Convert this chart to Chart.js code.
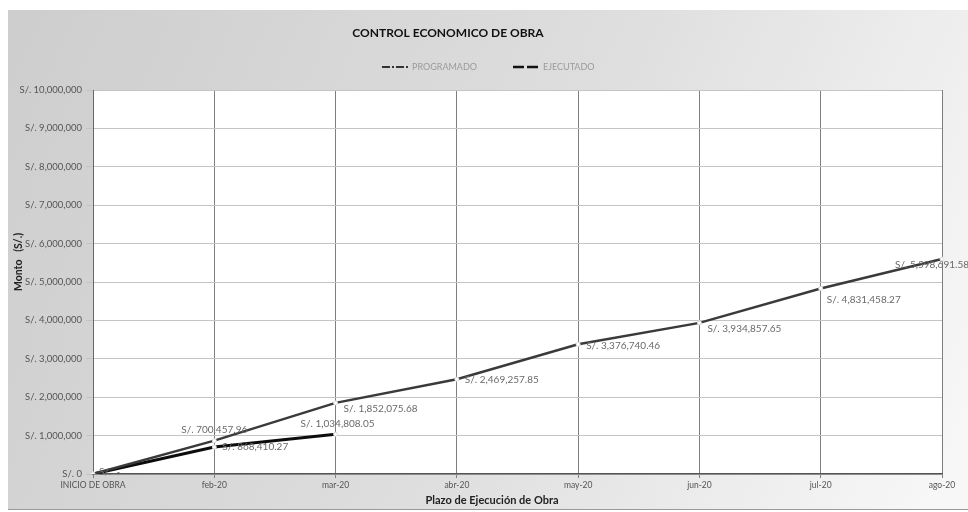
<!DOCTYPE html>
<html>
<head>
<meta charset="utf-8">
<script src="https://cdn.jsdelivr.net/npm/chart.js@4/dist/chart.umd.min.js"></script>
<style>
  html, body { margin: 0; padding: 0; background: #ffffff; }
  #wrap { width: 968px; height: 512px; position: relative; }
</style>
</head>
<body>
<div id="wrap"><canvas id="c" width="968" height="512"></canvas></div>
<script>
// ---- data ----
const categories = ['INICIO DE OBRA', 'feb-20', 'mar-20', 'abr-20', 'may-20', 'jun-20', 'jul-20', 'ago-20'];
const programado = [0, 868410.27, 1852075.68, 2469257.85, 3376740.46, 3934857.65, 4831458.27, 5598691.58];
const ejecutado = [0, 700457.96, 1034808.05];
const yTicks = [0, 1000000, 2000000, 3000000, 4000000, 5000000, 6000000, 7000000, 8000000, 9000000, 10000000];
// label anchor for each point (style only)
const progLabelPos = ['zero', 'rightBelow', 'rightBelow', 'right', 'right', 'rightBelow', 'rightBelow2', 'leftBelow'];
const ejecLabelPos = ['none', 'aboveHigh', 'above'];

const FONT = 'Lato, "Open Sans", sans-serif';

function money(v) {
  return 'S/. ' + v.toLocaleString('en-US', { minimumFractionDigits: 2, maximumFractionDigits: 2 });
}

const decorPlugin = {
  id: 'decor',
  beforeDraw(chart) {
    const ctx = chart.ctx;
    const { chartArea } = chart;
    ctx.save();
    ctx.fillStyle = '#ffffff';
    ctx.fillRect(0, 0, chart.width, chart.height);
    const g = ctx.createLinearGradient(0, 0, 968, 420);
    g.addColorStop(0, '#cdcdcd');
    g.addColorStop(0.55, '#dedede');
    g.addColorStop(1, '#f7f7f7');
    ctx.fillStyle = g;
    ctx.fillRect(8, 10, 960, 500);
    ctx.strokeStyle = '#9a9a9a';
    ctx.lineWidth = 1;
    ctx.beginPath();
    ctx.moveTo(8, 509.5); ctx.lineTo(968, 509.5);
    ctx.stroke();
    ctx.fillStyle = '#ffffff';
    ctx.fillRect(chartArea.left, chartArea.top, chartArea.right - chartArea.left, chartArea.bottom - chartArea.top);
    ctx.restore();
  },
  afterDraw(chart) {
    const ctx = chart.ctx;
    ctx.save();
    // title
    ctx.fillStyle = '#111';
    ctx.font = 'bold 12px ' + FONT;
    ctx.textAlign = 'center';
    ctx.textBaseline = 'middle';
    ctx.fillText('CONTROL ECONOMICO DE OBRA', 448, 33);
    // legend
    ctx.font = '9px ' + FONT;
    ctx.textAlign = 'left';
    const items = [
      { x: 382, text: 'PROGRAMADO', color: '#333', dash: [8, 2, 2, 2], w: 2 },
      { x: 513, text: 'EJECUTADO', color: '#111', dash: [11, 3], w: 2.5 }
    ];
    items.forEach(it => {
      ctx.strokeStyle = it.color;
      ctx.lineWidth = it.w;
      ctx.setLineDash(it.dash);
      ctx.beginPath();
      ctx.moveTo(it.x, 67); ctx.lineTo(it.x + 26, 67);
      ctx.stroke();
      ctx.setLineDash([]);
      ctx.fillStyle = '#9a9a9a';
      ctx.fillText(it.text, it.x + 30, 67.5);
    });
    // x axis title
    ctx.fillStyle = '#222';
    ctx.font = 'bold 11px ' + FONT;
    ctx.textAlign = 'center';
    ctx.fillText('Plazo de Ejecución de Obra', 492, 500);
    // y axis title
    ctx.translate(19, 262);
    ctx.rotate(-Math.PI / 2);
    ctx.font = 'bold 10.5px ' + FONT;
    ctx.fillText('Monto   (S/.)', 0, 0);
    ctx.restore();
  },
  afterDatasetsDraw(chart) {
    const ctx = chart.ctx;
    ctx.save();
    ctx.font = '10px ' + FONT;
    ctx.fillStyle = '#6a6a6a';
    ctx.textBaseline = 'middle';
    const posSets = [progLabelPos, ejecLabelPos];
    chart.data.datasets.forEach((ds, di) => {
      const meta = chart.getDatasetMeta(di);
      meta.data.forEach((pt, i) => {
        const pos = posSets[di][i];
        const v = ds.data[i];
        let txt = v === 0 ? 'S/.  -' : money(v);
        let x = pt.x, y = pt.y;
        if (pos === 'none') return;
        if (pos === 'zero') { ctx.textAlign = 'left'; x += 6; y -= 2; }
        else if (pos === 'right') { ctx.textAlign = 'left'; x += 8; y += 1; }
        else if (pos === 'rightBelow') { ctx.textAlign = 'left'; x += 8; y += 6; }
        else if (pos === 'rightBelow2') { ctx.textAlign = 'left'; x += 6; y += 11; }
        else if (pos === 'leftBelow') { ctx.textAlign = 'center'; x -= 10; y += 6; }
        else if (pos === 'above') { ctx.textAlign = 'center'; x += 2; y -= 10; }
        else if (pos === 'aboveHigh') { ctx.textAlign = 'center'; y -= 17; }
        ctx.fillText(txt, x, y);
      });
    });
    ctx.restore();
  }
};

new Chart(document.getElementById('c'), {
  type: 'line',
  data: {
    labels: categories,
    datasets: [
      {
        label: 'PROGRAMADO',
        data: programado,
        borderColor: '#3a3a3a',
        borderWidth: 2.5,
        pointRadius: 2,
        pointBackgroundColor: '#ffffff',
        pointBorderColor: '#dddddd',
        pointBorderWidth: 1,
        tension: 0,
        fill: false
      },
      {
        label: 'EJECUTADO',
        data: ejecutado,
        borderColor: '#0c0c0c',
        borderWidth: 3,
        pointRadius: 2,
        pointBackgroundColor: '#ffffff',
        pointBorderColor: '#dddddd',
        pointBorderWidth: 1,
        tension: 0,
        fill: false
      }
    ]
  },
  options: {
    responsive: false,
    animation: false,
    devicePixelRatio: 1,
    layout: { padding: { left: 8, right: 26, top: 90, bottom: 0 } },
    plugins: {
      legend: { display: false },
      title: { display: false },
      tooltip: { enabled: false }
    },
    scales: {
      x: {
        type: 'category',
        offset: false,
        afterFit(scale) { scale.height = 38; },
        grid: { color: '#7e7e7e', lineWidth: 1, offset: false, drawTicks: true, tickLength: 4 },
        border: { color: '#555', width: 1.5 },
        ticks: {
          color: '#555',
          font: { family: FONT, size: 8.5 },
          maxRotation: 0,
          autoSkip: false,
          padding: 2
        }
      },
      y: {
        min: 0,
        max: 10000000,
        afterFit(scale) { scale.width = 85; },
        afterBuildTicks(scale) { scale.ticks = yTicks.map(v => ({ value: v })); },
        grid: { color: '#c4c4c4', lineWidth: 1, drawTicks: true, tickLength: 7 },
        border: { color: '#666', width: 1 },
        ticks: {
          color: '#555',
          font: { family: FONT, size: 9.5 },
          padding: 4,
          callback: v => v === 0 ? 'S/. 0' : 'S/. ' + v.toLocaleString('en-US')
        },
        title: { display: false }
      }
    }
  },
  plugins: [decorPlugin]
});
</script>
</body>
</html>
